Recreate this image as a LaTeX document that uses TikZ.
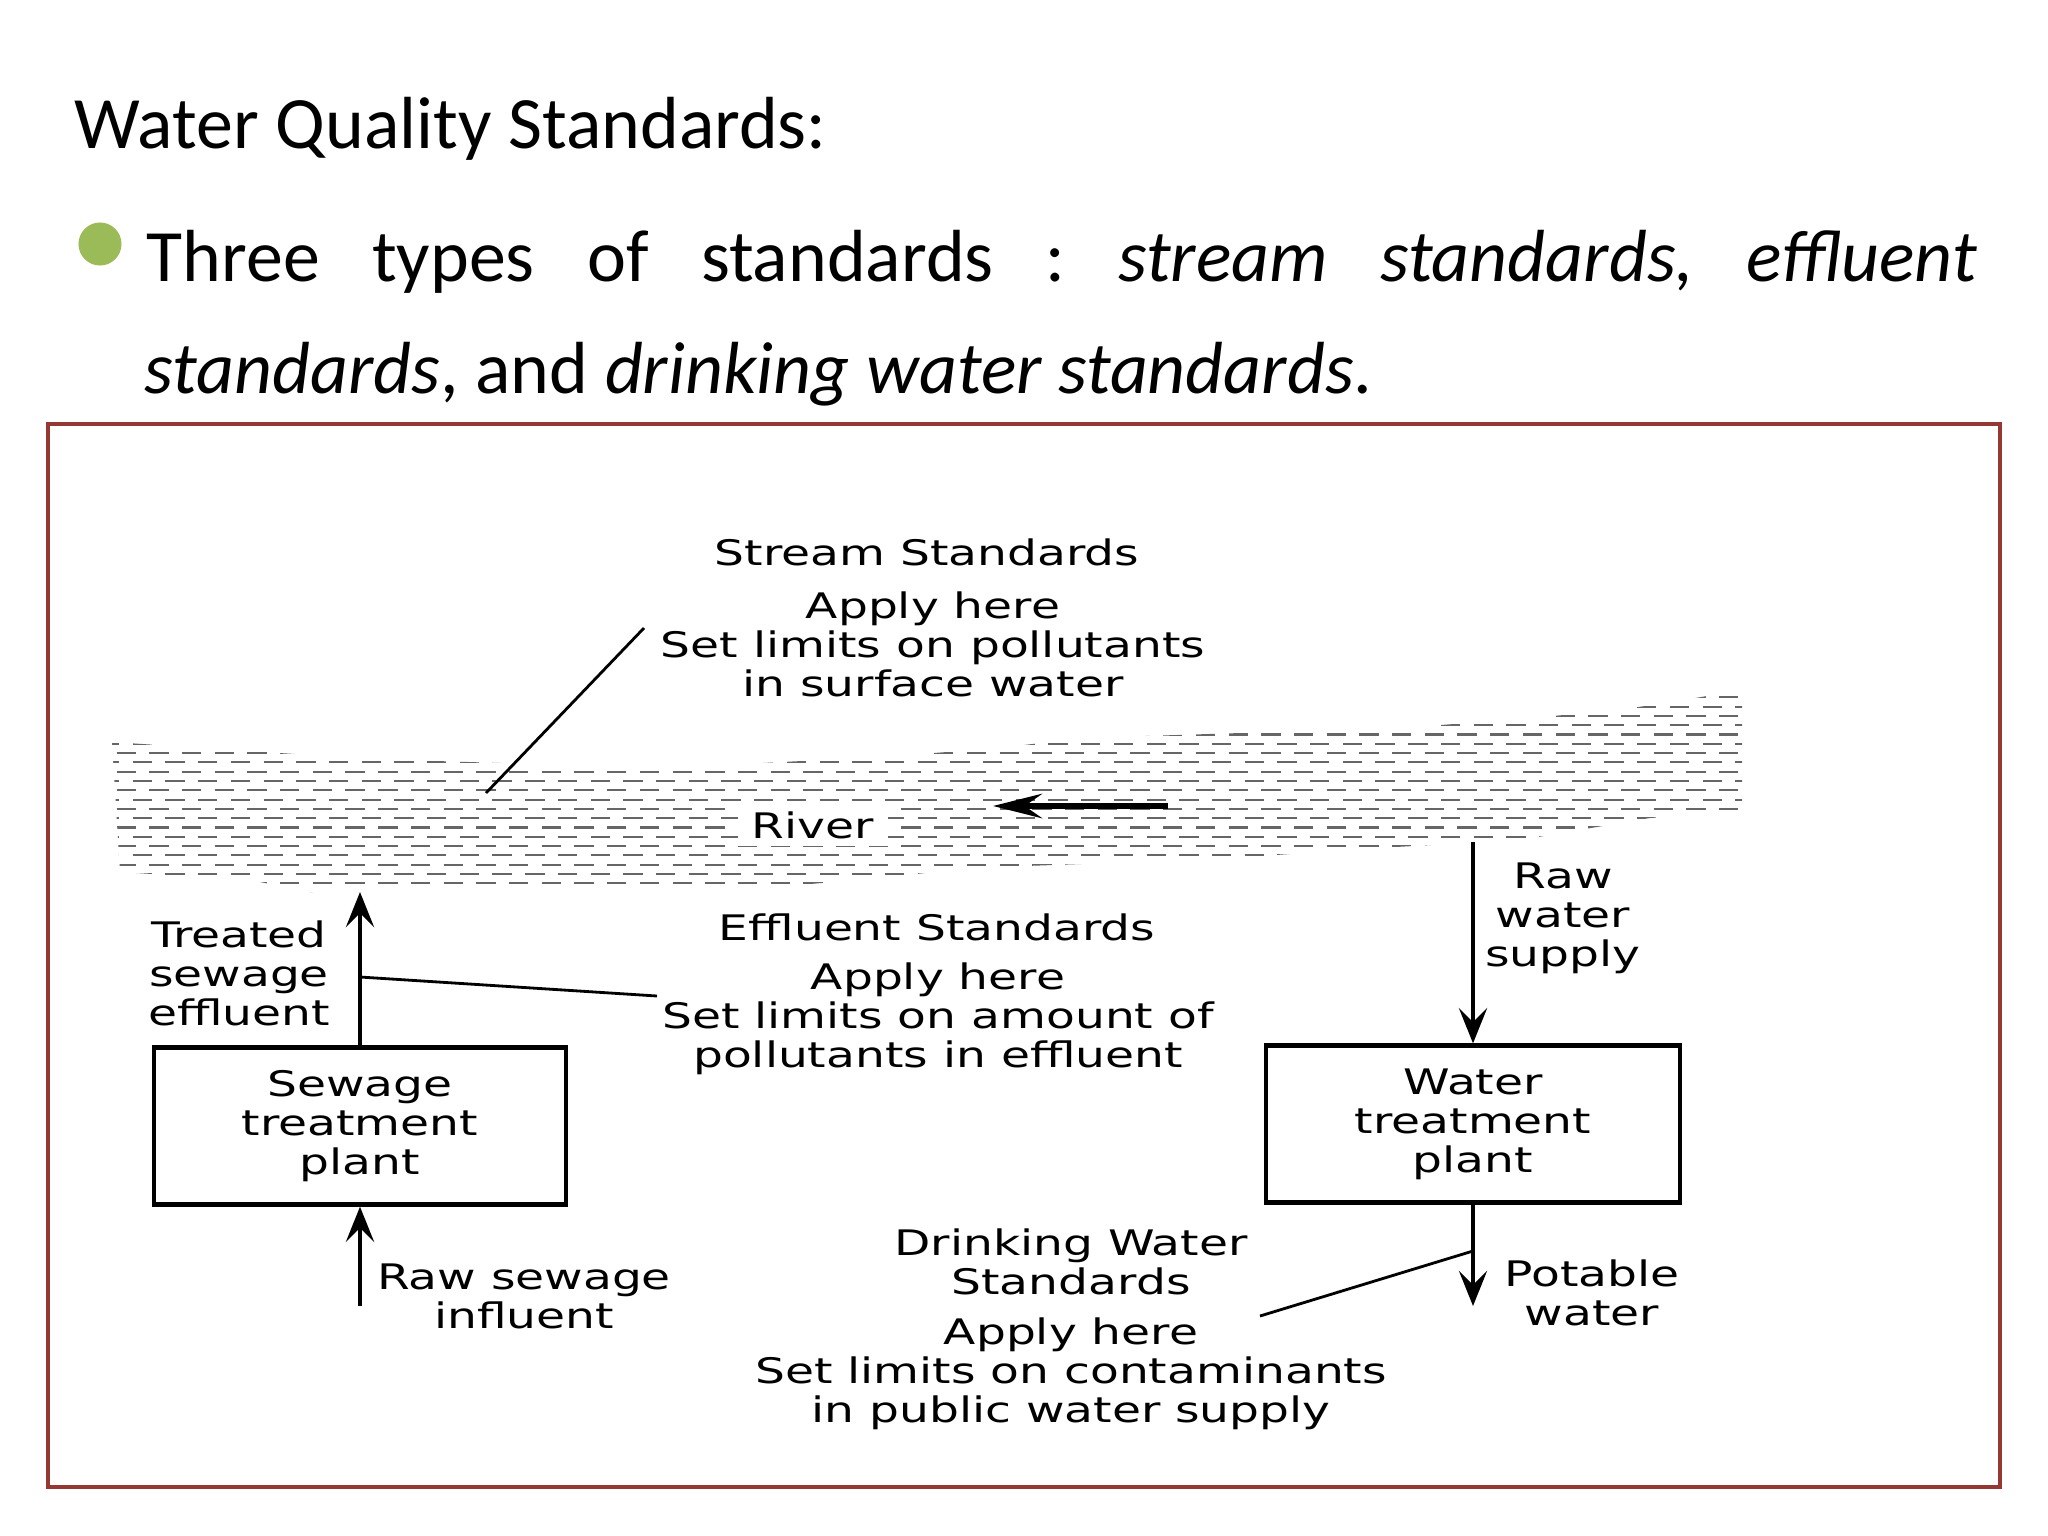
\documentclass[tikz,border=0pt]{standalone}
\usepackage{fontspec}
\setmainfont{Carlito}
\newfontfamily\diagfont[FakeStretch=1.34]{DejaVu Sans}
\usetikzlibrary{arrows.meta}
\definecolor{bulletgreen}{RGB}{155,187,89}
\definecolor{framered}{RGB}{149,55,53}
\frenchspacing
\tikzset{
  slidetext/.style={inner sep=0pt, font=\fontsize{21}{25}\selectfont},
  lbl/.style={inner sep=0pt, align=center, font=\diagfont\fontsize{10}{11.1}\selectfont},
  plant/.style={draw, line width=1.2pt, minimum width=4.11cm, minimum height=1.57cm,
    inner sep=0pt, align=center, font=\diagfont\fontsize{10}{11.1}\selectfont},
  flow/.style={line width=1.3pt, -{Stealth[length=10pt,width=8pt,inset=4pt]}},
  leader/.style={line width=0.8pt},
  ripple/.style={black!60, line width=0.6pt, dash pattern=on 5.5pt off 3.8pt},
}
\begin{document}
\begin{tikzpicture}[x=0.01cm, y=-0.01cm]
  \useasboundingbox (0,0) rectangle (2048,1536);
  % slide heading and bullet
  \node[slidetext, anchor=base west] (title) at (74,148) {Water Quality Standards:};
  \node[circle, fill=bulletgreen, inner sep=0pt, minimum size=0.43cm] (bullet) at (100,244) {};
  \node[slidetext, anchor=base west] (line1) at (146,281)
    {\makebox[18.29cm][s]{Three types of standards : \textit{stream standards,} \textit{effluent}}};
  \node[slidetext, anchor=base west] (line2) at (144,393)
    {\textit{standards}, and \textit{drinking water standards}.};
  \draw[framered, line width=1.3pt] (48,424) rectangle (2000,1487);

  % river
  \begin{scope}
    \clip (112,742) -- (371,759) -- (664,768) -- (881,757) -- (1000,748) -- (1081,738)
      -- (1401,728) -- (1520,719) -- (1618,710) -- (1672,702) -- (1742,690)
      -- (1742,812) -- (1650,818) -- (1520,840) -- (1360,849) -- (1220,859)
      -- (970,868) -- (880,878) -- (740,890) -- (310,892) -- (250,880)
      -- (120,872) -- cycle;
    \foreach \y in {688,706.6,...,900}
      \draw[ripple] (100,\y) -- (1760,\y);
    \foreach \y in {697.3,715.9,...,900}
      \draw[ripple, dash phase=4.6pt] (100,\y) -- (1760,\y);
  \end{scope}
  \node[lbl, fill=white, inner xsep=4pt, inner ysep=2pt] (river) at (813,825) {River};
  \coordinate (flowstart) at (1168,806);
  \coordinate (flowend) at (993,806);
  \draw[line width=1.6pt, -{Stealth[length=14pt,width=7pt,inset=5pt]}] (flowstart) -- (flowend);

  % stream standards
  \node[lbl] (streamhead) at (927,552) {Stream Standards};
  \node[lbl] (streambody) at (933,644) {Apply here\\Set limits on pollutants\\in surface water};
  \coordinate (streamtip) at (644,628);
  \coordinate (streamfoot) at (486,793);
  \draw[leader] (streamtip) -- (streamfoot);

  % sewage side
  \node[plant] (sewage) at (360,1126) {Sewage\\treatment\\plant};
  \coordinate (treated) at (360,892);
  \draw[flow] (sewage.north) -- (treated);
  \node[lbl] (treatedlbl) at (239,973) {Treated\\sewage\\effluent};
  \coordinate (rawsewage) at (360,1306);
  \draw[flow] (rawsewage) -- (sewage.south);
  \node[lbl] (rawsewagelbl) at (524,1296) {Raw sewage\\influent};

  % effluent standards
  \node[lbl] (effhead) at (937,927) {Effluent Standards};
  \node[lbl] (effbody) at (938,1019) {Apply here\\Set limits on amount of\\pollutants in effluent};
  \coordinate (effjoin) at (360,977);
  \coordinate (effend) at (657,996);
  \draw[leader] (effjoin) -- (effend);

  % water side
  \node[plant, minimum width=4.14cm] (water) at (1473,1124) {Water\\treatment\\plant};
  \coordinate (rawwater) at (1473,842);
  \draw[flow] (rawwater) -- (water.north);
  \node[lbl] (rawwaterlbl) at (1563,918) {Raw\\water\\supply};
  \coordinate (potable) at (1473,1306);
  \draw[flow] (water.south) -- (potable);
  \node[lbl] (potablelbl) at (1592,1293) {Potable\\water};

  % drinking water standards
  \node[lbl] (drinkhead) at (1071,1262) {Drinking Water\\Standards};
  \node[lbl] (drinkbody) at (1071,1374) {Apply here\\Set limits on contaminants\\in public water supply};
  \coordinate (drinkjoin) at (1473,1251);
  \coordinate (drinkend) at (1260,1316);
  \draw[leader] (drinkjoin) -- (drinkend);
\end{tikzpicture}
\end{document}
